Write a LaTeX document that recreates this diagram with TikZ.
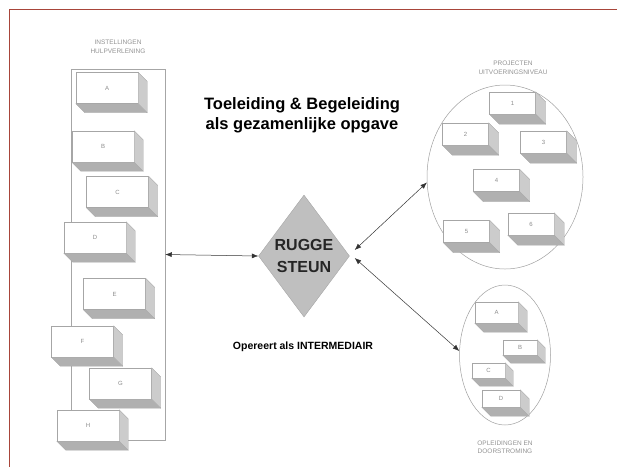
\documentclass[tikz,border=0pt]{standalone}
\usepackage{fontspec}
\setmainfont{Liberation Sans}
\usetikzlibrary{shapes.geometric,arrows.meta,calc}
\definecolor{framec}{HTML}{A8453A}
\tikzset{
  front/.style={draw=gray!70, fill=white, inner sep=0pt, line width=0.4pt,
    font=\fontsize{6}{6}\selectfont, text=gray!90},
  sidef/.style={fill=gray!40, draw=gray!70, line width=0.3pt},
  botf/.style={fill=gray!62, draw=gray!70, line width=0.3pt},
  lbl/.style={font=\fontsize{6.5}{8.5}\selectfont, text=gray!85, align=center},
  conn/.style={{Latex[length=6.5pt,width=5pt]}-{Latex[length=6.5pt,width=5pt]},
    draw=black!80, line width=0.5pt},
  oval/.style={ellipse, draw=gray!75, line width=0.5pt, inner sep=0pt},
}
\newcommand\blk[7]{%
  \node[front, minimum width=#4pt, minimum height=#5pt] (#1) at (#2,#3) {#7};
  \path[sidef] (#1.north east) -- ++(#6,#6) -- ($(#1.south east)+(#6,#6)$) -- (#1.south east) -- cycle;
  \path[botf] (#1.south west) -- (#1.south east) -- ($(#1.south east)+(#6,#6)$) -- ($(#1.south west)+(#6,#6)$) -- cycle;
}
\begin{document}
\begin{tikzpicture}[x=1pt,y=-1pt]
\useasboundingbox (0,0) rectangle (617,467);
% frame
\draw[framec, line width=1.6pt] (617,9.5) -- (9.5,9.5) -- (9.5,467);

% left group
\node[lbl] (instlbl) at (118,47) {INSTELLINGEN\\HULPVERLENING};
\node[draw=gray!70, line width=0.5pt, minimum width=94pt, minimum height=371pt, inner sep=0pt] (inst) at (118,254.5) {};
\blk{bA}{107}{88}{62}{31}{9}{A}
\blk{bB}{103}{146.5}{62}{31}{9}{B}
\blk{bC}{117.5}{192}{62}{31}{9}{C}
\blk{bD}{95}{237.5}{62}{31}{9}{D}
\blk{bE}{114.5}{294}{62}{31}{9}{E}
\blk{bF}{82.5}{341.5}{62}{31}{9}{F}
\blk{bG}{120.5}{383.5}{62}{31}{9}{G}
\blk{bH}{88}{425.5}{62}{31}{9}{H}

% title
\node[font=\bfseries\fontsize{16.5}{20}\selectfont, align=center] (title) at (302,115)
  {Toeleiding \& Begeleiding\\als gezamenlijke opgave};

% diamond
\node[diamond, aspect=0.75, minimum width=91pt, minimum height=122pt, inner sep=0pt,
  fill=gray!50, draw=gray!70, text=black!85, font=\bfseries\fontsize{16}{22}\selectfont, align=center] (rs) at (304,256) {RUGGE\\STEUN};
\node[font=\bfseries\fontsize{10.5}{12}\selectfont] (oper) at (303,347) {Opereert als INTERMEDIAIR};

% right upper group
\node[lbl] (projlbl) at (513,68) {PROJECTEN\\UITVOERINGSNIVEAU};
\node[oval, minimum width=156pt, minimum height=184pt] (proj) at (505,177) {};
\blk{p1}{512.5}{103}{46}{22}{10}{1}
\blk{p2}{465.5}{134}{46}{22}{10}{2}
\blk{p3}{543.5}{142}{46}{22}{10}{3}
\blk{p4}{496.5}{180.5}{46}{22}{10}{4}
\blk{p5}{466.5}{231.5}{46}{22}{10}{5}
\blk{p6}{531}{224}{46}{22}{10}{6}

% right lower group
\node[oval, minimum width=91pt, minimum height=140pt] (opl) at (505,355) {};
\blk{oA}{496.5}{312.5}{43}{21}{9}{A}
\blk{oB}{520}{347.5}{34}{15}{8}{B}
\blk{oC}{488.5}{370.5}{33}{15}{8}{C}
\blk{oD}{501}{398.5}{38}{17}{9}{D}
\node[lbl] (opllbl) at (505,447) {OPLEIDINGEN EN\\DOORSTROMING};

% connectors
\draw[conn] (inst.east) -- (rs.west);
\draw[conn] ($(rs.east)+(5,-6)$) -- (proj.184);
\draw[conn] ($(rs.east)+(5,2)$) -- (opl.175);
\end{tikzpicture}
\end{document}
